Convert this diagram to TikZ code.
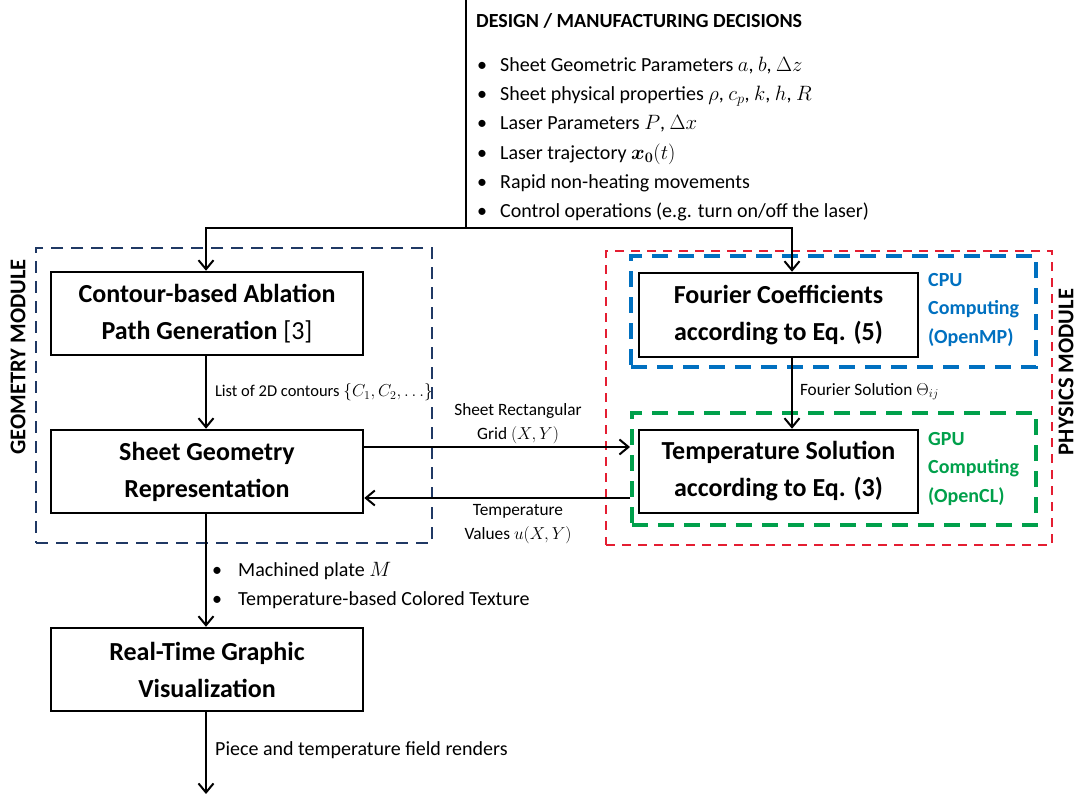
\documentclass[tikz,border=0pt]{standalone}
\definecolor{geoNavy}{RGB}{31, 56, 100}
\definecolor{physRed}{RGB}{228, 30, 50}
\definecolor{cpuBlue}{RGB}{0, 112, 192}
\definecolor{gpuGreen}{RGB}{0, 160, 75}
\usepackage{fontspec}
\setmainfont{Carlito}
\usepackage{amsmath,amssymb}
\usepackage{tikz}
\usetikzlibrary{positioning, calc, arrows.meta}

\begin{document}
\begin{tikzpicture}[
    x=1pt, y=-1pt,
    procbox/.style={rectangle, draw=black, line width=2.5pt, minimum width=312,
                    minimum height=83, align=center,
                    font=\fontsize{26}{37}\selectfont\bfseries},
    modbox/.style={rectangle, line width=2pt, inner sep=0pt},
    unitbox/.style={rectangle, line width=4pt, inner sep=0pt,
                    dash pattern=on 16pt off 10pt},
    arrow/.style={-{Straight Barb[length=9pt, width=15pt]}, line width=2pt},
    lbl/.style={font=\fontsize{17.3}{24}\selectfont, align=center, inner sep=0pt},
    modlbl/.style={font=\fontsize{22.5}{24}\selectfont\bfseries, rotate=90, inner sep=0pt},
    unitlbl/.style={font=\fontsize{20}{28.5}\selectfont\bfseries, align=left,
                    anchor=west, inner sep=0pt},
  ]
    \useasboundingbox (0,0) rectangle (1078,794);

    % module frames
    \node[modbox, draw=geoNavy, dash pattern=on 12pt off 8pt,
          minimum width=396, minimum height=295] (GEO) at (234,395.5) {};
    \node[modbox, draw=physRed, dash pattern=on 9pt off 7pt,
          minimum width=446, minimum height=294] (PHY) at (829,398) {};
    \node[unitbox, draw=cpuBlue, minimum width=405, minimum height=111] (CPU) at (833.5,311.5) {};
    \node[unitbox, draw=gpuGreen, minimum width=404, minimum height=112] (GPU) at (834,469) {};
    \node[modlbl] (GEOL) at (18,357) {GEOMETRY MODULE};
    \node[modlbl] (PHYL) at (1066,372) {PHYSICS MODULE};

    % processing blocks
    \node[procbox] (CB) at (207,313.5) {Contour-based Ablation\\Path Generation {\mdseries[3]}};
    \node[procbox] (SG) at (207,471.5) {Sheet Geometry\\Representation};
    \node[procbox] (RT) at (207,669.5) {Real-Time Graphic\\Visualization};
    \node[procbox, minimum width=279, minimum height=84] (FC) at (778.5,315) {Fourier Coefficients\\according to Eq. (5)};
    \node[procbox, minimum width=279, minimum height=83] (TS) at (778.5,471.5) {Temperature Solution\\according to Eq. (3)};

    \node[unitlbl, text=cpuBlue] (CPUL) at (928,310) {CPU\\Computing\\(OpenMP)};
    \node[unitlbl, text=gpuGreen] (GPUL) at (928,469) {GPU\\Computing\\(OpenCL)};

    % decisions
    \coordinate (top) at (466,0);
    \coordinate (split) at (466,228);
    \node[anchor=north west, align=left, inner sep=0pt,
          font=\fontsize{20}{29.2}\selectfont] (DEC) at (476,13)
         {{\fontsize{20}{22}\selectfont\bfseries DESIGN / MANUFACTURING DECISIONS}\\[15pt]
          \hspace{1pt}\textbullet\hspace{13pt}Sheet Geometric Parameters $a$, $b$, $\Delta z$\\
          \hspace{1pt}\textbullet\hspace{13pt}Sheet physical properties $\rho$, $c_p$, $k$, $h$, $R$\\
          \hspace{1pt}\textbullet\hspace{13pt}Laser Parameters $P$, $\Delta x$\\
          \hspace{1pt}\textbullet\hspace{13pt}Laser trajectory $\boldsymbol{x_0}(t)$\\
          \hspace{1pt}\textbullet\hspace{13pt}Rapid non-heating movements\\
          \hspace{1pt}\textbullet\hspace{13pt}Control operations (e.g. turn on/off the laser)};

    \draw[line width=2pt] (top) -- (split);
    \draw[arrow] (split) -| ([xshift=-1pt]CB.north);
    \draw[arrow] (split) -| ([xshift=13.5pt]FC.north);

    % connectors
    \draw[arrow] ([xshift=-1pt]CB.south) -- ([xshift=-1pt]SG.north)
         node[lbl, midway, right=8pt, font=\fontsize{16.5}{24}\selectfont] (L1)
         {List of 2D contours $\{C_1, C_2, \ldots\}$};
    \draw[arrow] ([xshift=13.5pt]FC.south) -- ([xshift=13.5pt]TS.north)
         node[lbl, midway, right=7pt, yshift=2pt] (L2) {Fourier Solution $\Theta_{ij}$};
    \draw[arrow] ([yshift=24.5pt]SG.east) -- ([yshift=24.5pt]SG.east -| GPU.west);
    \draw[arrow] ([yshift=-26.5pt]SG.east -| GPU.west) -- ([yshift=-26.5pt]SG.east);
    \node[lbl] (L3) at (518,424) {Sheet Rectangular\\Grid $(X,Y)$};
    \node[lbl] (L4) at (518,524) {Temperature\\Values $u(X,Y)$};

    \draw[arrow] ([xshift=-1pt]SG.south) -- ([xshift=-1pt]RT.north);
    \node[anchor=west, align=left, inner sep=0pt,
          font=\fontsize{20}{29}\selectfont] (OUT) at (212,585.5)
         {\textbullet\hspace{16pt}Machined plate $M$\\
          \textbullet\hspace{16pt}Temperature-based Colored Texture};

    \coordinate (bot) at (206,794);
    \draw[arrow] ([xshift=-1pt]RT.south) -- (bot);
    \node[anchor=west, inner sep=0pt, font=\fontsize{20}{24}\selectfont] (L5) at (215,750)
         {Piece and temperature field renders};
\end{tikzpicture}
\end{document}
